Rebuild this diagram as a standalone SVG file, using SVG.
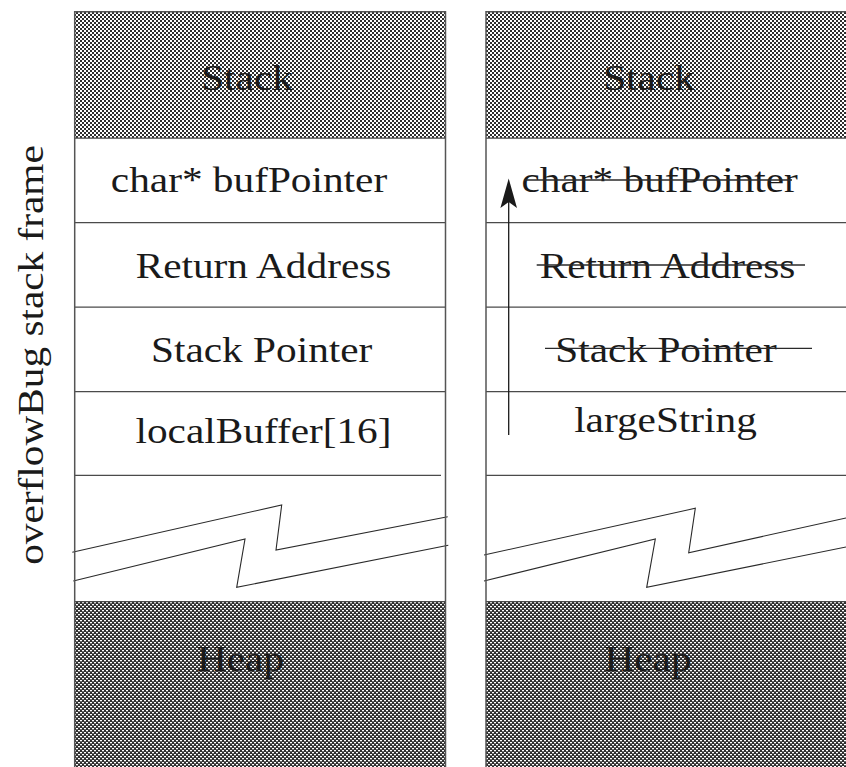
<svg xmlns="http://www.w3.org/2000/svg" width="846" height="767" viewBox="0 0 846 767">
  <style>
    .lbl { font-family: "Liberation Serif", "Times New Roman", serif; font-size: 35px; fill: #1a1a1a; text-anchor: middle; }
    .rule { stroke: #4a4a4a; stroke-width: 1.3; fill: none; }
    .edge { stroke: #555; stroke-width: 1.5; fill: none; }
    .zig { stroke: #2a2a2a; stroke-width: 1.1; fill: none; stroke-linejoin: miter; }
    .strike { stroke: #2a2a2a; stroke-width: 1.3; }
  </style>
  <defs>
    <!-- light dither used for the stack region -->
    <pattern id="ditherLight" width="4" height="4" patternUnits="userSpaceOnUse">
      <rect width="4" height="4" fill="#ffffff"/>
      <rect x="0" y="0" width="2" height="2" fill="#2e2e2e"/>
      <rect x="2" y="2" width="2" height="2" fill="#2e2e2e"/>
    </pattern>
    <!-- denser dither used for the heap region -->
    <pattern id="ditherDark" width="4" height="4" patternUnits="userSpaceOnUse">
      <rect width="4" height="4" fill="#2e2e2e"/>
      <rect x="0" y="0" width="2" height="1.3" fill="#ffffff"/>
      <rect x="2" y="2" width="2" height="1.3" fill="#ffffff"/>
    </pattern>
  </defs>

  <rect width="846" height="767" fill="#ffffff"/>

  <!-- side caption -->
  <g id="caption">
    <text class="lbl" transform="translate(43,355) rotate(-90) scale(1.18,1)">overflowBug stack frame</text>
  </g>

  <!-- ===== left column: normal frame ===== -->
  <g id="left-stack">
    <rect x="74.7" y="11.7" width="370.8" height="126.5" fill="url(#ditherLight)"/>
    <line class="edge" x1="74.7" y1="11.7" x2="445.5" y2="11.7" stroke="#333" stroke-width="2"/>
    <line class="rule" x1="74.7" y1="138.2" x2="445.5" y2="138.2"/>
    <text class="lbl" transform="translate(247,90) scale(1.18,1)">Stack</text>
  </g>
  <g id="left-bufpointer">
    <text class="lbl" transform="translate(249,191.7) scale(1.18,1)">char* bufPointer</text>
    <line class="rule" x1="74.7" y1="222.7" x2="445.5" y2="222.7"/>
  </g>
  <g id="left-return">
    <text class="lbl" transform="translate(263.5,278) scale(1.18,1)">Return Address</text>
    <line class="rule" x1="74.7" y1="307.2" x2="445.5" y2="307.2"/>
  </g>
  <g id="left-sp">
    <text class="lbl" transform="translate(261.7,361.7) scale(1.18,1)">Stack Pointer</text>
    <line class="rule" x1="74.7" y1="391.7" x2="445.5" y2="391.7"/>
  </g>
  <g id="left-buffer">
    <text class="lbl" transform="translate(263.5,443) scale(1.18,1)">localBuffer[16]</text>
    <line class="rule" x1="74.7" y1="475.3" x2="441" y2="475.3"/>
  </g>
  <g id="left-break">
    <polyline class="zig" points="72.3,552.3 281.7,505 276,550 447.7,516.7"/>
    <polyline class="zig" points="73.3,581 245,539 236.7,587.3 448.3,545.3"/>
  </g>
  <g id="left-heap">
    <rect x="74.7" y="601.7" width="370.8" height="166" fill="url(#ditherDark)"/>
    <line class="rule" x1="74.7" y1="601.7" x2="445.5" y2="601.7" stroke="#333" stroke-width="1.6"/>
    <text class="lbl" transform="translate(240.5,670.7) scale(1.18,1)">Heap</text>
  </g>
  <line class="edge" x1="74.7" y1="11" x2="74.7" y2="767"/>
  <line class="edge" x1="445.5" y1="11" x2="445.5" y2="767"/>

  <!-- ===== right column: overflowed frame ===== -->
  <g id="right-stack">
    <rect x="486" y="11.7" width="360" height="126.5" fill="url(#ditherLight)"/>
    <line class="edge" x1="486" y1="11.7" x2="846" y2="11.7" stroke="#333" stroke-width="2"/>
    <line class="rule" x1="486" y1="138.2" x2="846" y2="138.2"/>
    <text class="lbl" transform="translate(649,90) scale(1.18,1)">Stack</text>
  </g>
  <g id="right-bufpointer">
    <text class="lbl" transform="translate(659.7,191.7) scale(1.18,1)">char* bufPointer</text>
    <line class="strike" x1="524" y1="180" x2="792" y2="180"/>
    <line class="rule" x1="486" y1="222.7" x2="846" y2="222.7"/>
  </g>
  <g id="right-return">
    <text class="lbl" transform="translate(667.5,278.3) scale(1.18,1)">Return Address</text>
    <line class="strike" x1="536.7" y1="265" x2="805" y2="265"/>
    <line class="rule" x1="486" y1="307.2" x2="846" y2="307.2"/>
  </g>
  <g id="right-sp">
    <text class="lbl" transform="translate(666,361.7) scale(1.18,1)">Stack Pointer</text>
    <line class="strike" x1="545" y1="348.3" x2="812" y2="348.3"/>
    <line class="rule" x1="486" y1="391.7" x2="846" y2="391.7"/>
  </g>
  <g id="right-buffer">
    <text class="lbl" transform="translate(665.5,431.7) scale(1.18,1)">largeString</text>
    <line class="rule" x1="486" y1="475.3" x2="846" y2="475.3"/>
  </g>
  <g id="right-break">
    <polyline class="zig" points="484,555 695.3,508.3 688.7,552.7 846,518"/>
    <polyline class="zig" points="484,581 655.3,539 646.7,587.3 846,547"/>
  </g>
  <g id="right-heap">
    <rect x="486" y="601.7" width="360" height="166" fill="url(#ditherDark)"/>
    <line class="rule" x1="486" y1="601.7" x2="846" y2="601.7" stroke="#333" stroke-width="1.6"/>
    <text class="lbl" transform="translate(648,670.7) scale(1.18,1)">Heap</text>
  </g>
  <line class="edge" x1="486" y1="11" x2="486" y2="767"/>

  <!-- overflow direction: shaft plus notched head -->
  <g id="connectors">
    <line x1="508.7" y1="435" x2="508.7" y2="200" stroke="#1a1a1a" stroke-width="1.3"/>
    <path d="M508.7 178.5 L517 208 L508.7 202 L500.4 208 Z" fill="#1a1a1a"/>
  </g>
</svg>
